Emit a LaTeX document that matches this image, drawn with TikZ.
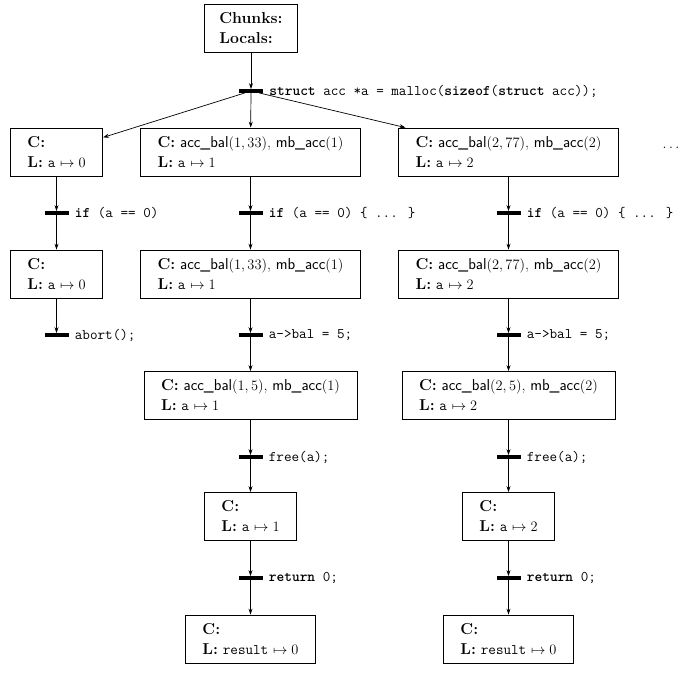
\documentclass[tikz,border=0pt]{standalone}
\usetikzlibrary{arrows.meta}
\begin{document}
\begin{tikzpicture}[x=1pt,y=-1pt,
  every node/.style={font=\fontsize{15.8}{20}\selectfont},
  state/.style={draw, line width=0.8pt, rectangle, align=left, inner xsep=17pt, inner ysep=6pt, minimum height=48pt},
  trans/.style={fill=black, rectangle, inner sep=0pt, minimum width=24pt, minimum height=3.5pt},
  lab/.style={anchor=west, inner sep=0pt, xshift=6pt},
  arr/.style={-{Stealth[length=6pt,width=4pt]}, line width=0.7pt}]
\useasboundingbox (0,0) rectangle (695,674);
\newcommand{\Cl}{\textbf{C:}}
\newcommand{\Ll}{\textbf{L:}}
\newcommand{\tc}[1]{{\fontsize{14.7}{20}\selectfont\ttfamily #1}}
\newcommand{\ab}[2]{\textsf{acc\_bal}$(#1, #2)$}
\newcommand{\mb}[1]{\textsf{mb\_acc}$(#1)$}
\newcommand{\amap}[1]{\tc{a} $\mapsto #1$}
% top
\node[state, inner xsep=15pt] (top) at (251,28.5) {\textbf{Chunks:}\\\textbf{Locals:}};
\node[trans] (t1) at (251,91) {};
\node[lab] (l1) at (t1.east) {\tc{\textbf{struct} acc *a = malloc(\textbf{sizeof}(\textbf{struct} acc));}};
% row 1
\node[state] (b1L) at (56.5,152) {\Cl\\\Ll{} \amap{0}};
\node[state] (b1M) at (250.5,152) {\Cl{} \ab{1}{33}, \mb{1}\\\Ll{} \amap{1}};
\node[state] (b1R) at (508.5,152) {\Cl{} \ab{2}{77}, \mb{2}\\\Ll{} \amap{2}};
\node (dots) at (671,148) {$\dots$};
% row 2 transitions
\node[trans] (t2L) at (56.5,213) {};
\node[lab] at (t2L.east) {\tc{\textbf{if} (a == 0)}};
\node[trans] (t2M) at (250.5,213) {};
\node[lab] at (t2M.east) {\tc{\textbf{if} (a == 0) \{ ... \}}};
\node[trans] (t2R) at (508.5,213) {};
\node[lab] at (t2R.east) {\tc{\textbf{if} (a == 0) \{ ... \}}};
% row 2
\node[state] (b2L) at (56.5,274) {\Cl\\\Ll{} \amap{0}};
\node[state] (b2M) at (250.5,274) {\Cl{} \ab{1}{33}, \mb{1}\\\Ll{} \amap{1}};
\node[state] (b2R) at (508.5,274) {\Cl{} \ab{2}{77}, \mb{2}\\\Ll{} \amap{2}};
% row 3 transitions
\node[trans] (t3L) at (56.5,335) {};
\node[lab] at (t3L.east) {\tc{abort();}};
\node[trans] (t3M) at (250.5,335) {};
\node[lab] at (t3M.east) {\tc{a->bal = 5;}};
\node[trans] (t3R) at (508.5,335) {};
\node[lab] at (t3R.east) {\tc{a->bal = 5;}};
% row 3
\node[state] (b3M) at (250.5,395.5) {\Cl{} \ab{1}{5}, \mb{1}\\\Ll{} \amap{1}};
\node[state] (b3R) at (508.5,395.5) {\Cl{} \ab{2}{5}, \mb{2}\\\Ll{} \amap{2}};
% row 4 transitions
\node[trans] (t4M) at (250.5,457) {};
\node[lab] at (t4M.east) {\tc{free(a);}};
\node[trans] (t4R) at (508.5,457) {};
\node[lab] at (t4R.east) {\tc{free(a);}};
% row 4
\node[state] (b4M) at (250.5,516.5) {\Cl\\\Ll{} \amap{1}};
\node[state] (b4R) at (508.5,516.5) {\Cl\\\Ll{} \amap{2}};
% row 5 transitions
\node[trans] (t5M) at (250.5,578) {};
\node[lab] at (t5M.east) {\tc{\textbf{return} 0;}};
\node[trans] (t5R) at (508.5,578) {};
\node[lab] at (t5R.east) {\tc{\textbf{return} 0;}};
% row 5
\node[state] (b5M) at (250.5,639) {\Cl\\\Ll{} \tc{result} $\mapsto 0$};
\node[state] (b5R) at (508.5,639) {\Cl\\\Ll{} \tc{result} $\mapsto 0$};
% edges
\draw[arr] (top) -- (t1);
\draw[arr] (t1) -- (b1L);
\draw[arr] (t1) -- (b1M);
\draw[arr] (t1) -- (b1R);
\draw[arr] (b1L) -- (t2L);
\draw[arr] (t2L) -- (b2L);
\draw[arr] (b2L) -- (t3L);
\draw[arr] (b1M) -- (t2M);
\draw[arr] (t2M) -- (b2M);
\draw[arr] (b2M) -- (t3M);
\draw[arr] (t3M) -- (b3M);
\draw[arr] (b3M) -- (t4M);
\draw[arr] (t4M) -- (b4M);
\draw[arr] (b4M) -- (t5M);
\draw[arr] (t5M) -- (b5M);
\draw[arr] (b1R) -- (t2R);
\draw[arr] (t2R) -- (b2R);
\draw[arr] (b2R) -- (t3R);
\draw[arr] (t3R) -- (b3R);
\draw[arr] (b3R) -- (t4R);
\draw[arr] (t4R) -- (b4R);
\draw[arr] (b4R) -- (t5R);
\draw[arr] (t5R) -- (b5R);
\end{tikzpicture}
\end{document}
